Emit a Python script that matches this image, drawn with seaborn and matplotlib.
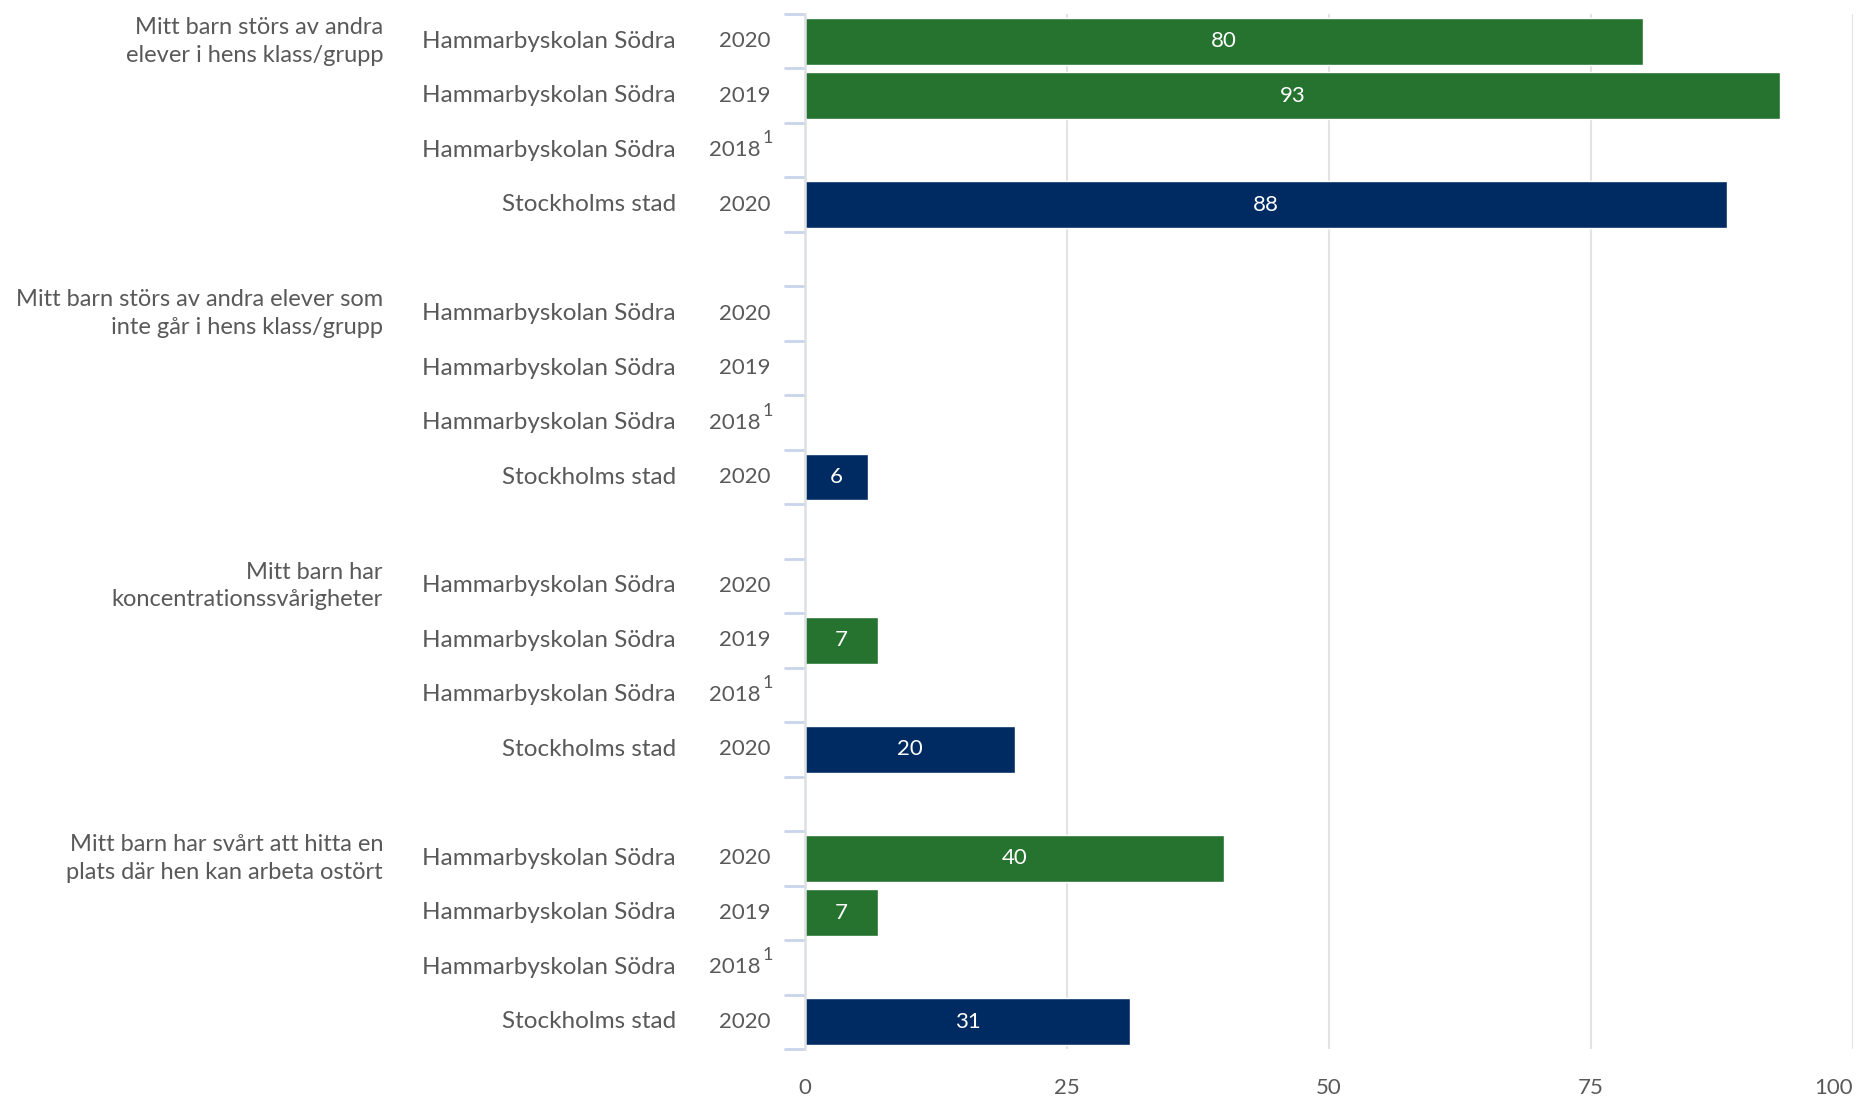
import numpy as np
import pandas as pd
import matplotlib
matplotlib.use("Agg")
import matplotlib.pyplot as plt
import seaborn as sns

questions = [
    "Mitt barn störs av andra\nelever i hens klass/grupp",
    "Mitt barn störs av andra elever som\ninte går i hens klass/grupp",
    "Mitt barn har\nkoncentrationssvårigheter",
    "Mitt barn har svårt att hitta en\nplats där hen kan arbeta ostört",
]
entities = ["Hammarbyskolan Södra", "Hammarbyskolan Södra", "Hammarbyskolan Södra", "Stockholms stad"]
years = ["2020", "2019", "2018", "2020"]
footnotes = ["", "", "1", ""]
kinds = ["school", "school", "school", "city"]
values_q1 = [80, 93, np.nan, 88]
values_q2 = [np.nan, np.nan, np.nan, 6]
values_q3 = [np.nan, 7, np.nan, 20]
values_q4 = [40, 7, np.nan, 31]
all_values = [values_q1, values_q2, values_q3, values_q4]
x_ticks = [0, 25, 50, 75, 100]

palette = {"school": "#267330", "city": "#002B62"}
text_color = "#595959"

sns.set_theme(style="white")
plt.rcParams["font.family"] = ["Lato", "DejaVu Sans"]

rows = []
order = []
pos = 0
for qi, (q, vals) in enumerate(zip(questions, all_values)):
    for ei in range(4):
        rid = f"r{pos}"
        order.append(rid)
        rows.append({"row": rid, "value": vals[ei], "kind": kinds[ei], "q": qi, "e": ei, "pos": pos})
        pos += 1
    if qi < len(questions) - 1:
        rid = f"r{pos}"
        order.append(rid)
        rows.append({"row": rid, "value": np.nan, "kind": "school", "q": -1, "e": -1, "pos": pos})
        pos += 1
df = pd.DataFrame(rows)

fig = plt.figure(figsize=(18.75, 10.97), dpi=100)
left, right = 805, 1853
ax = fig.add_axes([left / 1875, 1 - 1049 / 1097, (right - left) / 1875, (1049 - 14) / 1097])
W = right - left

sns.barplot(data=df, y="row", x="value", hue="kind", order=order, palette=palette,
            dodge=False, width=0.86, legend=False, ax=ax, saturation=1, errorbar=None)

ax.set_xlim(0, 100)
ax.set_ylim(len(order) - 0.5, -0.5)
ax.set_xticks(x_ticks)
ax.set_xticklabels([str(t) for t in x_ticks])
ax.tick_params(axis="x", length=0, labelsize=16, labelcolor=text_color, pad=21)
ax.set_xlabel("")
ax.set_ylabel("")
ax.set_yticks([])
ax.set_yticks(np.arange(-0.5, len(order), 1.0), minor=True)
ax.tick_params(axis="y", which="minor", length=15, width=2, color="#c9d5ea", left=True)
ax.tick_params(axis="y", which="major", length=0, labelleft=False)
for s in ["top", "right", "bottom"]:
    ax.spines[s].set_visible(False)
ax.spines["left"].set_color("#dcdfe4")
ax.spines["left"].set_linewidth(1.8)
ax.grid(axis="x", color="#e3e3e3", linewidth=1.5)
ax.set_axisbelow(True)
ax.xaxis.get_majorticklabels()[-1].set_horizontalalignment("right")

def ax_x(px):
    return (px - left) / W

tr = ax.get_yaxis_transform()
fs_ent = 17.5
fs_year = 16
fs_q = 17
for _, r in df.iterrows():
    if r["q"] < 0:
        continue
    y = r["pos"]
    e = int(r["e"])
    ax.text(ax_x(676), y, entities[e], transform=tr, ha="right", va="center", fontsize=fs_ent, color=text_color)
    if footnotes[e]:
        ax.text(ax_x(761), y, years[e], transform=tr, ha="right", va="center", fontsize=fs_year, color=text_color)
        ax.text(ax_x(763), y - 0.22, footnotes[e], transform=tr, ha="left", va="center", fontsize=13, color=text_color)
    else:
        ax.text(ax_x(771), y, years[e], transform=tr, ha="right", va="center", fontsize=fs_year, color=text_color)
    if e == 0:
        ax.text(ax_x(383), y, questions[int(r["q"])], transform=tr, ha="right", va="center",
                fontsize=fs_q, color=text_color, linespacing=1.4)
    v = r["value"]
    if not np.isnan(v):
        ax.text(v / 2, y, f"{v:.0f}", ha="center", va="center", fontsize=16, color="white")

fig.savefig("out.png", dpi=100)
